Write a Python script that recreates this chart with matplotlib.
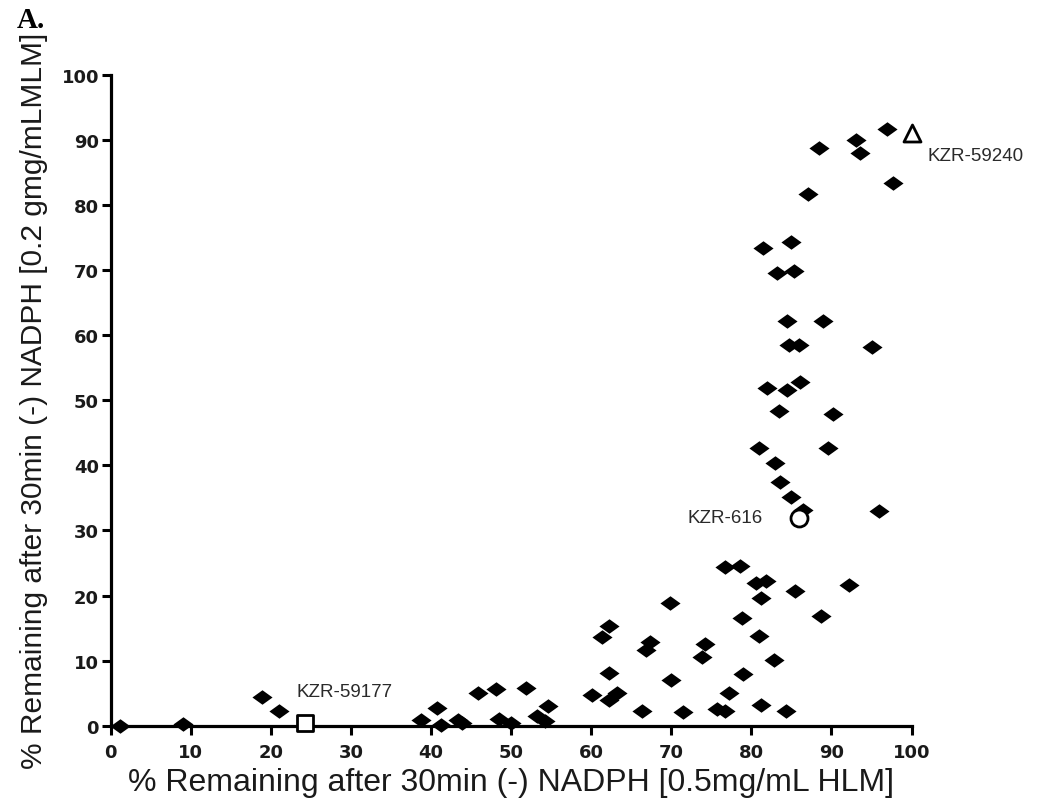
import matplotlib
matplotlib.use("Agg")
import matplotlib.pyplot as plt
import numpy as np

# % remaining, HLM (x) vs MLM (y)
hlm = [1.1, 9.0, 18.9, 21.0, 38.8, 40.8, 41.2, 43.4, 43.8, 45.9, 48.1, 48.5, 50.0,
       51.9, 53.2, 54.2, 54.6,
       60.1, 61.3, 62.2, 62.2, 62.2, 63.2, 66.3, 66.8, 67.4, 69.8, 70.0, 71.5,
       73.8, 74.2, 75.7, 76.7, 76.7, 77.2, 78.6, 78.8, 78.9, 80.6, 81.0, 81.2,
       81.2, 81.8, 82.8, 84.3, 85.5, 92.2, 88.7,
       83.6, 85.0, 86.5, 96.0, 81.0, 89.6, 82.9, 83.5, 90.2, 82.0, 84.5, 86.1,
       84.7, 85.9, 95.1, 84.5, 89.0, 83.2, 85.3, 81.5, 84.9, 87.1, 88.5, 93.1,
       93.6, 97.0, 97.7]
mlm = [0.0, 0.3, 4.4, 2.2, 0.9, 2.8, 0.2, 0.9, 0.4, 5.0, 5.7, 1.0, 0.4,
       5.8, 1.5, 0.8, 3.1,
       4.8, 13.7, 15.3, 8.1, 3.9, 5.1, 2.2, 11.6, 12.8, 18.9, 7.1, 2.1,
       10.6, 12.6, 2.6, 24.4, 2.2, 5.0, 24.5, 16.6, 8.0, 22.0, 13.8, 19.6,
       3.2, 22.3, 10.1, 2.2, 20.7, 21.6, 16.9,
       37.4, 35.2, 33.2, 33.0, 42.6, 42.7, 40.4, 48.4, 47.9, 51.8, 51.6, 52.8,
       58.5, 58.4, 58.2, 62.2, 62.2, 69.6, 69.9, 73.4, 74.3, 81.6, 88.8, 90.0,
       88.0, 91.6, 83.3]

# highlighted compounds: name, x, y, marker
named = ["KZR-59177", "KZR-616", "KZR-59240"]
named_x = [24.2, 85.9, 100.0]
named_y = [0.4, 31.9, 91.0]
named_marker = ["s", "o", "^"]
named_size = [125, 150, 150]

diamond = [(-1, 0), (0, 0.72), (1, 0), (0, -0.72), (-1, 0)]

fig = plt.figure(figsize=(10.55, 8.04), dpi=100)
ax = fig.add_axes([0.105, 0.096, 0.759, 0.81])

ax.scatter(hlm, mlm, marker=diamond, s=210, c="black", linewidths=0, clip_on=False, zorder=3)
for x, y, m, sz in zip(named_x, named_y, named_marker, named_size):
    ax.scatter([x], [y], marker=m, s=sz, facecolors="white", edgecolors="black",
               linewidths=2, clip_on=False, zorder=4)

txt = dict(fontsize=13.5, family="Liberation Sans", color="#2a2a2a", va="center")
ax.text(23.2, 5.2, named[0], **txt)
ax.text(81.4, 32.0, named[1], ha="right", **txt)
ax.text(102.0, 87.6, named[2], **txt)

ax.set_xlim(0, 100)
ax.set_ylim(0, 100)
ax.set_xticks(np.arange(0, 101, 10))
ax.set_yticks(np.arange(0, 101, 10))
for s in ["top", "right"]:
    ax.spines[s].set_visible(False)
for s in ["left", "bottom"]:
    ax.spines[s].set_linewidth(2.3)
ax.tick_params(width=2.2, length=6.5, labelsize=13)
ax.tick_params(axis="x", pad=6)
ax.tick_params(axis="y", pad=2)
for lab in ax.get_xticklabels() + ax.get_yticklabels():
    lab.set_fontweight("bold")
    lab.set_family("DejaVu Sans")
    lab.set_color("#1a1a1a")

ax.set_xlabel("% Remaining after 30min (-) NADPH [0.5mg/mL HLM]", fontsize=23,
              family="Liberation Sans", labelpad=4, color="#1a1a1a")
ax.set_ylabel("% Remaining after 30min (-) NADPH [0.2 gmg/mLMLM]", fontsize=21.5,
              family="Liberation Sans", labelpad=10, color="#1a1a1a")

fig.text(0.016, 0.975, "A.", fontsize=21, fontweight="bold", family="Liberation Serif", va="center")

fig.savefig("out.png", dpi=100)
